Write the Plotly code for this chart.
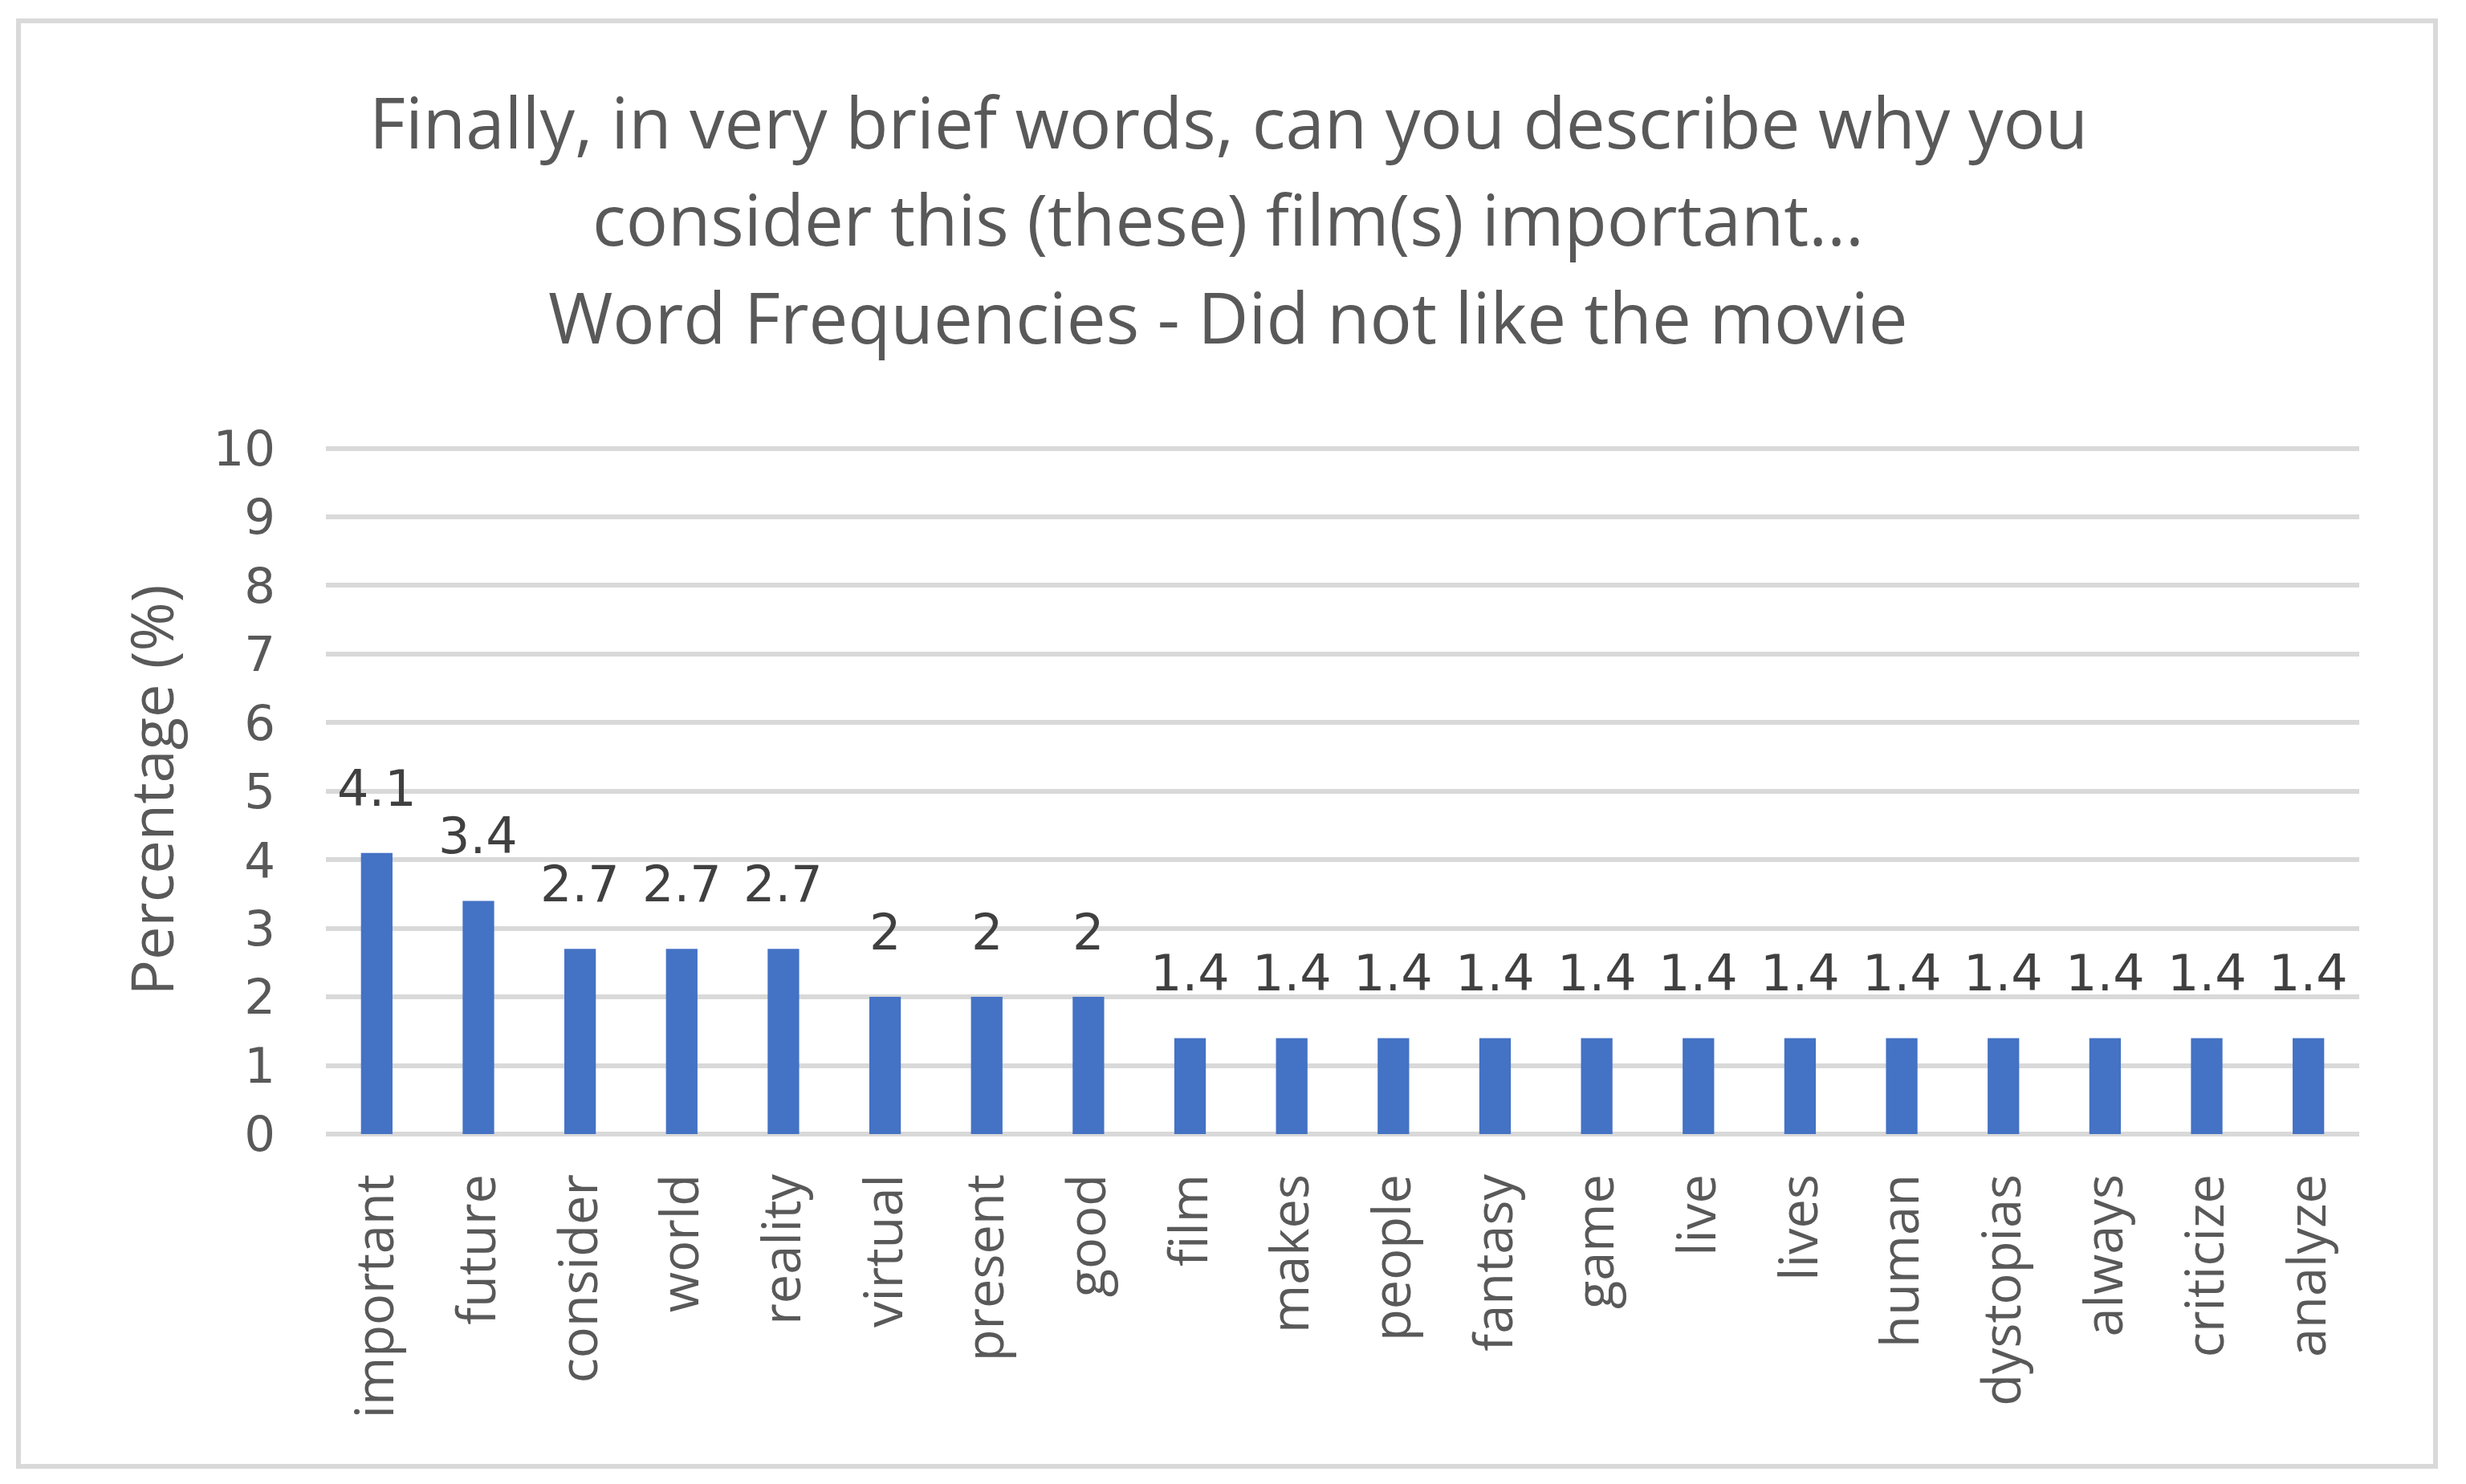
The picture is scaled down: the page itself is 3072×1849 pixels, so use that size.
import plotly.graph_objects as go

# Word frequencies (percent)
words = ['important', 'future', 'consider', 'world', 'reality', 'virtual',
         'present', 'good', 'film', 'makes', 'people', 'fantasy', 'game',
         'live', 'lives', 'human', 'dystopias', 'always', 'criticize', 'analyze']
percentages = [4.1, 3.4, 2.7, 2.7, 2.7, 2, 2, 2, 1.4, 1.4, 1.4, 1.4, 1.4,
               1.4, 1.4, 1.4, 1.4, 1.4, 1.4, 1.4]
y_ticks = list(range(0, 11))

title_lines = ["Finally, in very brief words, can you describe why you",
               "consider this (these) film(s) important...",
               "Word Frequencies - Did not like the movie"]

W, H = 3072, 1849
# plot area in figure pixels (page has an 8px body margin)
plot_l, plot_r, plot_t, plot_b = 398, 2931, 548, 1405
pw = plot_r - plot_l
ph = plot_b - plot_t

def px_x(x):
    return (x - plot_l) / pw

def px_y(y):
    return (plot_b - y) / ph

fig = go.Figure()

fig.add_trace(go.Bar(
    x=words,
    y=percentages,
    marker=dict(color='#4472C4', line=dict(width=0)),
    width=0.31,
    showlegend=False,
))

# Data labels above bars
for w, p in zip(words, percentages):
    fig.add_annotation(
        x=w, y=p, text=f"{p:g}",
        showarrow=False, yanchor='bottom', yshift=42,
        font=dict(family='DejaVu Sans', size=62, color='#404040'),
    )

# Title, one annotation per line
for line, yc in zip(title_lines, [143, 264, 386]):
    fig.add_annotation(
        xref='paper', yref='paper',
        x=px_x(1522), y=px_y(yc), xanchor='center', yanchor='middle',
        text=line, showarrow=False,
        font=dict(family='Open Sans', size=87, color='#595959'),
    )

# Chart frame
fig.add_shape(
    type='rect', xref='paper', yref='paper',
    x0=px_x(15), x1=px_x(3026),
    y0=px_y(1819), y1=px_y(18),
    line=dict(color='#D9D9D9', width=6), layer='below',
)

fig.update_layout(
    width=W, height=H,
    margin=dict(l=plot_l, r=W - plot_r, t=plot_t, b=H - plot_b),
    plot_bgcolor='white',
    paper_bgcolor='white',
    showlegend=False,
)

fig.update_xaxes(
    type='category',
    tickangle=-90,
    tickfont=dict(family='Open Sans', size=65, color='#595959'),
    ticklabelstandoff=36,
    showgrid=False,
    showline=False,
    zeroline=False,
)

fig.update_yaxes(
    range=[0, 10.03],
    tickvals=y_ticks,
    tickfont=dict(family='DejaVu Sans', size=61, color='#595959'),
    ticklabelstandoff=62,
    gridcolor='#D9D9D9',
    gridwidth=6,
    zeroline=True,
    zerolinecolor='#D9D9D9',
    zerolinewidth=6,
    showline=False,
    title=dict(text='Percentage (%)',
               font=dict(family='Open Sans', size=74, color='#595959'),
               standoff=24),
)

fig.write_html("out.html")
